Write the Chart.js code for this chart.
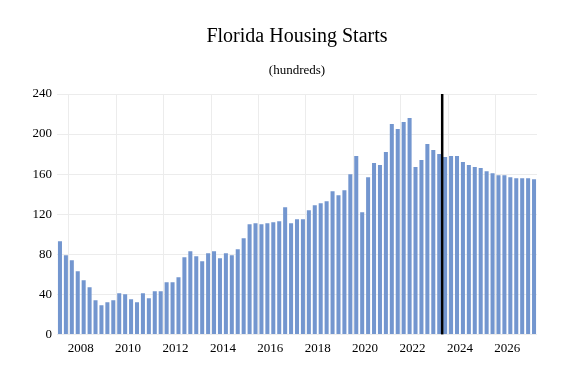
<!DOCTYPE html>
<html>
<head>
<meta charset="utf-8">
<script src="https://cdn.jsdelivr.net/npm/chart.js@4/dist/chart.umd.min.js"></script>
<style>
  html, body { margin: 0; padding: 0; background: #ffffff; }
  #wrap { width: 579px; height: 380px; position: relative; }
</style>
</head>
<body>
<div id="wrap"><canvas id="c"></canvas></div>
<script>
// Quarterly categories 2007 Q1 .. 2027 Q1
const years = [2007,2008,2009,2010,2011,2012,2013,2014,2015,2016,2017,2018,2019,2020,2021,2022,2023,2024,2025,2026,2027];
const quarterNames = ['Q1','Q2','Q3','Q4'];
const tickYears = ['2008','2010','2012','2014','2016','2018','2020','2022','2024','2026'];

// Housing starts (hundreds)
const starts = [
  93, 79, 74, 63, 54, 47, 34, 29,
  32, 34, 41, 40, 35, 32, 41, 36,
  43, 43, 52, 52, 57, 77, 83, 78,
  73, 81, 83, 76, 81, 79, 85, 96,
  110, 111, 110, 111, 112, 113, 127, 111,
  115, 115, 124, 129, 131, 133, 143, 139,
  144, 160, 178, 122, 157, 171, 169, 182,
  210, 205, 212, 216, 167, 174, 190, 184,
  180, 177, 178, 178, 172, 169, 167, 166,
  163, 161, 159, 159, 157, 156, 156, 156,
  155
];
const yTicks = [0, 40, 80, 120, 160, 200, 240];
const forecastAfter = '2023 Q1';
const titleText = 'Florida Housing Starts';
const subtitleText = '(hundreds)';

const categories = [];
years.forEach(y => quarterNames.forEach(q => categories.push(y + ' ' + q)));
categories.length = starts.length;

Chart.defaults.font.family = "'Liberation Serif', 'Times New Roman', serif";
Chart.defaults.color = '#000000';

const decorations = {
  id: 'decorations',
  afterDatasetsDraw(chart) {
    const xs = chart.scales.x, area = chart.chartArea;
    const i = categories.indexOf(forecastAfter);
    const x = (xs.getPixelForValue(i) + xs.getPixelForValue(i + 1)) / 2;
    const ctx = chart.ctx;
    ctx.save();
    ctx.strokeStyle = '#000000';
    ctx.lineWidth = 2.5;
    ctx.beginPath();
    ctx.moveTo(x, area.top);
    ctx.lineTo(x, area.bottom);
    ctx.stroke();
    const cx = (area.left + area.right) / 2;
    ctx.fillStyle = '#000000';
    ctx.textAlign = 'center';
    ctx.textBaseline = 'alphabetic';
    ctx.font = "20px 'Liberation Serif', serif";
    ctx.fillText(titleText, cx, 41.5);
    ctx.font = "13px 'Liberation Serif', serif";
    ctx.fillText(subtitleText, cx, 74);
    ctx.restore();
  }
};

new Chart(document.getElementById('c'), {
  type: 'bar',
  data: {
    labels: categories,
    datasets: [{
      data: starts,
      backgroundColor: '#7396cf',
      borderWidth: 0,
      categoryPercentage: 1,
      barPercentage: 0.68
    }]
  },
  options: {
    responsive: true,
    maintainAspectRatio: false,
    animation: false,
    layout: { padding: { left: 0, right: 42, top: 94, bottom: 18 } },
    plugins: {
      legend: { display: false },
      tooltip: { enabled: false },
      title: { display: false },
      subtitle: { display: false }
    },
    scales: {
      x: {
        offset: true,
        border: { display: false },
        grid: {
          offset: true,
          drawTicks: false,
          color: ctx => (ctx.index % 8 === 2) ? '#ececec' : 'rgba(0,0,0,0)',
          lineWidth: 1
        },
        ticks: {
          autoSkip: false,
          maxRotation: 0,
          minRotation: 0,
          padding: 6,
          labelOffset: -3,
          color: '#000000',
          font: { family: "'Liberation Serif', serif", size: 13 },
          callback: function(value, index) {
            const lab = categories[index];
            const y = lab.split(' ')[0];
            return (lab.endsWith('Q1') && tickYears.includes(y)) ? y : '';
          }
        }
      },
      y: {
        min: 0,
        max: 240,
        border: { display: false },
        afterFit: s => { s.width = 57; },
        afterBuildTicks: s => { s.ticks = yTicks.map(v => ({ value: v })); },
        grid: { color: '#ececec', drawTicks: false, lineWidth: 1 },
        ticks: {
          padding: 5,
          color: '#000000',
          font: { family: "'Liberation Serif', serif", size: 13 }
        }
      }
    }
  },
  plugins: [decorations]
});
</script>
</body>
</html>
